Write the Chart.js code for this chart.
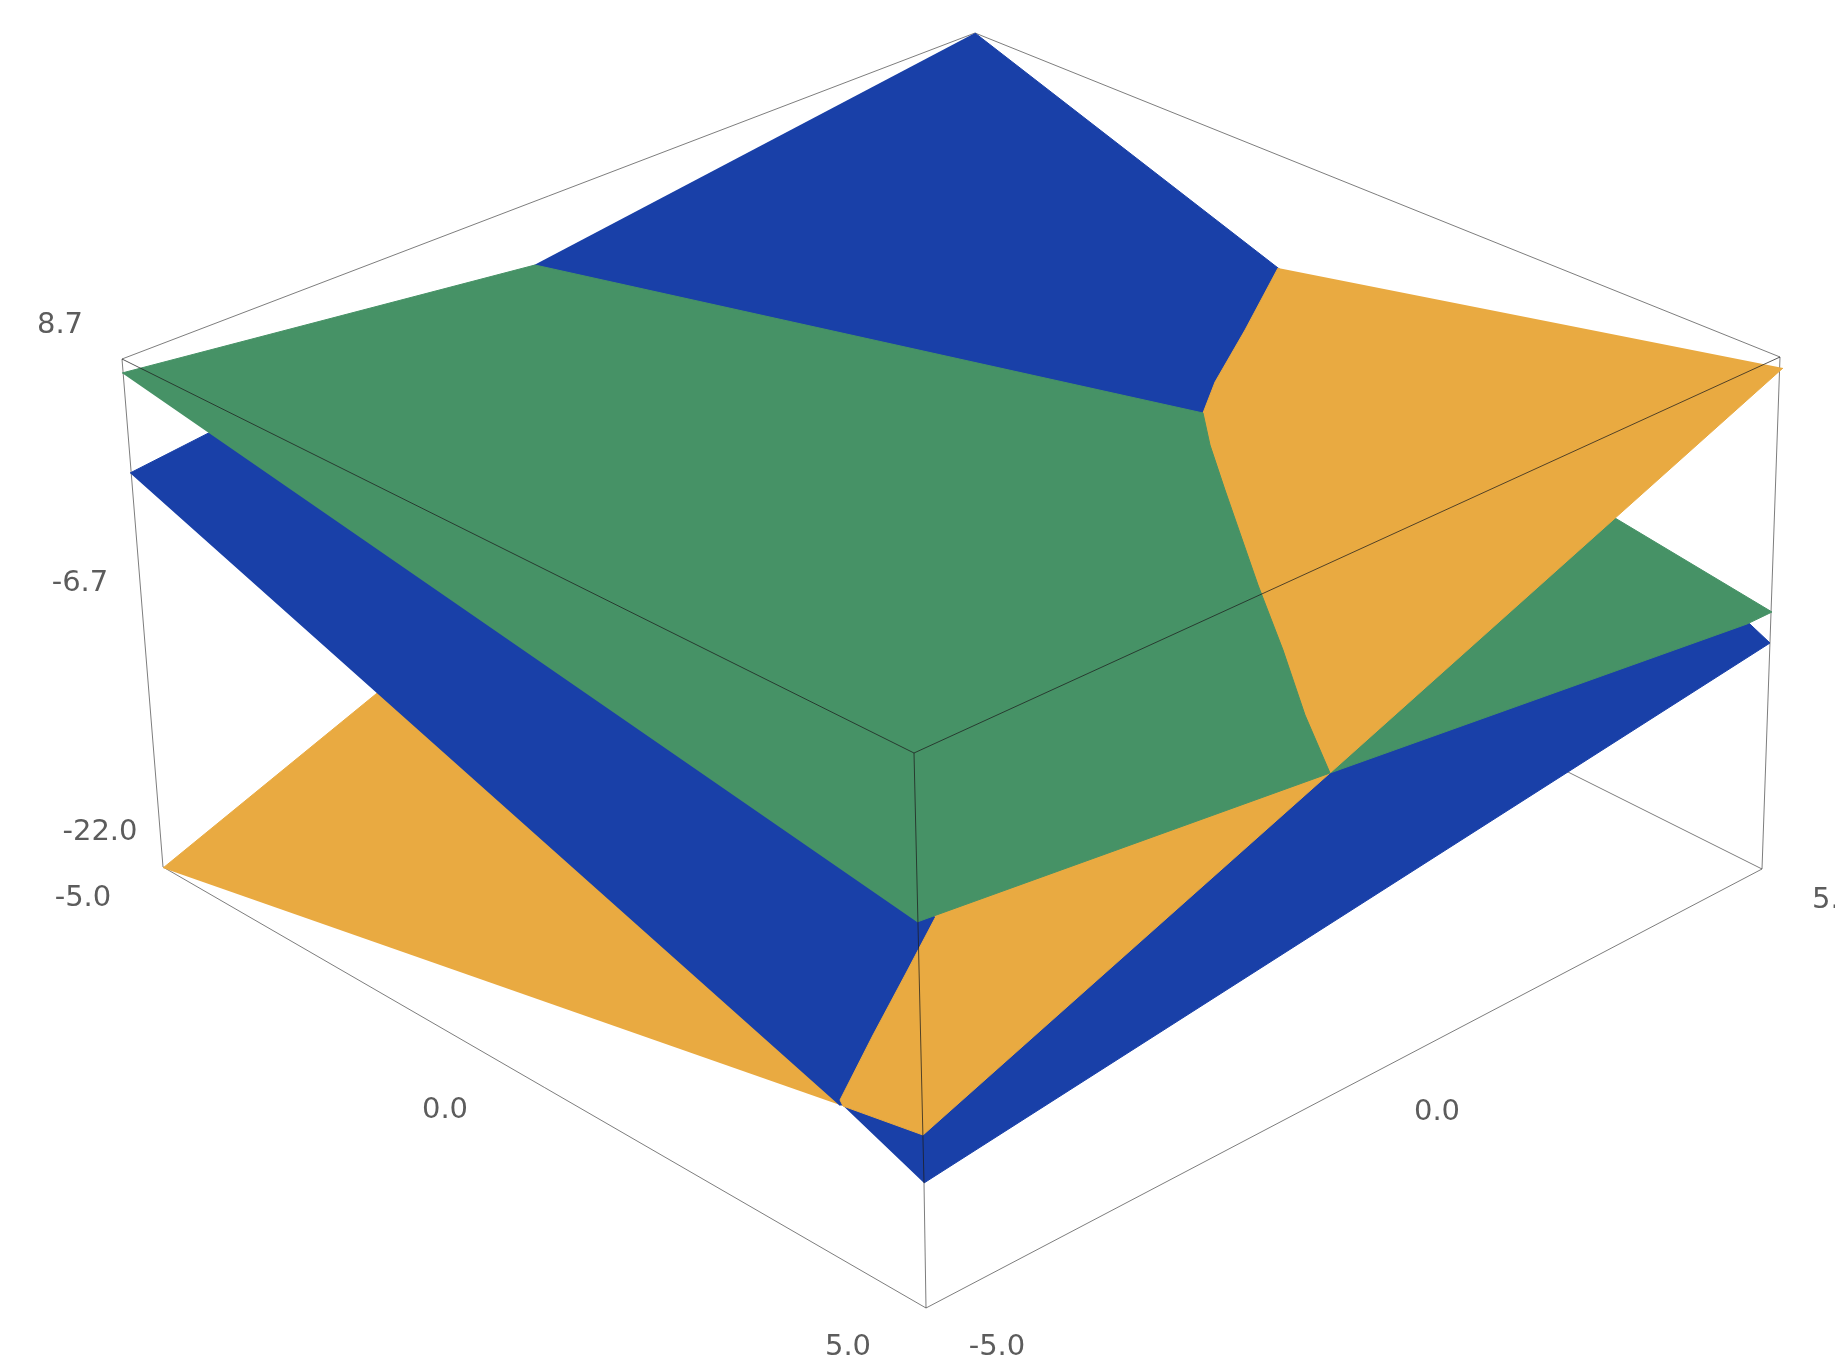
<!DOCTYPE html>
<html>
<head>
<meta charset="utf-8">
<title>Surface plot</title>
<script src="https://cdn.jsdelivr.net/npm/chart.js@4"></script>
<style>
  html, body { margin: 0; padding: 0; background: #fff; overflow: hidden; }
  canvas { display: block; }
</style>
</head>
<body>
<canvas id="chart" width="1835" height="1366"></canvas>
<script>
// everything below is read off the picture, in the projected plane of the 3d plot
// x 0..1835, y 0..1366 (y runs downwards)

// frame of the box
var backEdges = [
  [[122, 359], [975, 33]],
  [[975, 33], [1780, 357]],
  [[1762, 869], [1560, 768]],
  [[122, 359], [163, 867]],
  [[1780, 357], [1762, 869]],
  [[163, 867], [926, 1308]],
  [[1762, 869], [926, 1308]],
  [[924, 1183], [926, 1308]]
];
var frontEdges = [
  [[122, 359], [914, 753]],
  [[914, 753], [1780, 357]],
  [[914, 753], [924, 1183]]
];

// the bent lines where two pieces meet
var ridgeBlueOrangeBack = [[1278, 268], [1245, 330], [1215, 382], [1203, 413]];
var ridgeGreenOrange = [[1203, 413], [1210, 445], [1225, 490], [1258, 585], [1283, 650], [1305, 715], [1330, 773]];
var ridgeBlueOrangeFront = [[935, 918], [905, 975], [873, 1035], [840, 1100]];

// surface pieces, back to front. some corners run on under the piece that covers them
var orangeLeft = [[163, 868], [420, 658], [835, 1090], [840, 1105]];
var blueLeft = [[130, 473], [240, 417], [917, 890], [945, 900], [945, 925], [850, 1105], [839, 1105]];
var blueFront = [[835, 1098], [915, 1110], [1320, 770], [1735, 610], [1770, 643], [924, 1183]];
var orangeFront = [[930, 900], [1315, 760], [1330, 773], [923, 1135], [843, 1106]].concat(ridgeBlueOrangeFront.slice().reverse());
var greenRight = [[1320, 770], [1600, 509], [1772, 612], [1747, 624], [1330, 773]];
var blueBack = [[975, 33], [1300, 285], [1230, 430], [500, 283]];
var orangeBack = [[1783, 368], [1330, 773], [1310, 760], [1195, 430]].concat(ridgeBlueOrangeBack.slice().reverse());
var greenMain = [[122, 373], [535, 265]].concat(ridgeGreenOrange, [[917, 922]]);

// tick labels
var zTicks = ['8.7', '-6.7', '-22.0'];
var zTickPos = [[60, 325], [80, 583], [100, 832]];
var leftTicks = ['-5.0', '0.0', '5.0'];
var leftTickPos = [[83, 898], [445, 1110], [848, 1347]];
var rightTicks = ['-5.0', '0.0', '5.0'];
var rightTickPos = [[997, 1347], [1437, 1112], [1835, 900]];

var BLUE = '#1940a8';
var GREEN = '#469266';
var ORANGE = '#e9aa41';

function toPoints(list) {
  return list.map(function (p) { return { x: p[0], y: p[1] }; });
}

function surface(list, color) {
  return {
    data: toPoints(list),
    showLine: true,
    fill: 'shape',
    backgroundColor: color,
    borderColor: color,
    borderWidth: 1,
    pointRadius: 0,
    tension: 0
  };
}

function edge(list, color) {
  return {
    data: toPoints(list),
    showLine: true,
    fill: false,
    borderColor: color,
    borderWidth: 1,
    pointRadius: 0,
    tension: 0
  };
}

var drawList = [];
backEdges.forEach(function (e) { drawList.push(edge(e, 'rgba(70,70,70,0.7)')); });
drawList.push(surface(orangeLeft, ORANGE));
drawList.push(surface(blueLeft, BLUE));
drawList.push(surface(blueFront, BLUE));
drawList.push(surface(orangeFront, ORANGE));
drawList.push(surface(greenRight, GREEN));
drawList.push(surface(blueBack, BLUE));
drawList.push(surface(orangeBack, ORANGE));
drawList.push(surface(greenMain, GREEN));
frontEdges.forEach(function (e) { drawList.push(edge(e, 'rgba(30,30,30,0.75)')); });

// chart.js draws lower order last, so the last one in the list ends up on top
drawList.forEach(function (d, i) { d.order = drawList.length - i; });

var tickLabelPlugin = {
  id: 'tickLabels',
  afterDraw: function (chart) {
    var ctx = chart.ctx;
    var xs = chart.scales.x, ys = chart.scales.y;
    function put(labels, pos) {
      labels.forEach(function (t, i) {
        ctx.fillText(t, xs.getPixelForValue(pos[i][0]), ys.getPixelForValue(pos[i][1]));
      });
    }
    ctx.save();
    ctx.font = '29px "DejaVu Sans"';
    ctx.fillStyle = '#5c5c5c';
    ctx.textAlign = 'center';
    ctx.textBaseline = 'middle';
    put(zTicks, zTickPos);
    put(leftTicks, leftTickPos);
    put(rightTicks, rightTickPos);
    ctx.restore();
  }
};

new Chart(document.getElementById('chart'), {
  type: 'scatter',
  data: { datasets: drawList },
  options: {
    responsive: false,
    animation: false,
    layout: { padding: 0 },
    plugins: { legend: { display: false }, tooltip: { enabled: false } },
    scales: {
      x: { type: 'linear', min: 0, max: 1835, display: false },
      y: { type: 'linear', min: 0, max: 1366, reverse: true, display: false }
    }
  },
  plugins: [tickLabelPlugin]
});
</script>
</body>
</html>
